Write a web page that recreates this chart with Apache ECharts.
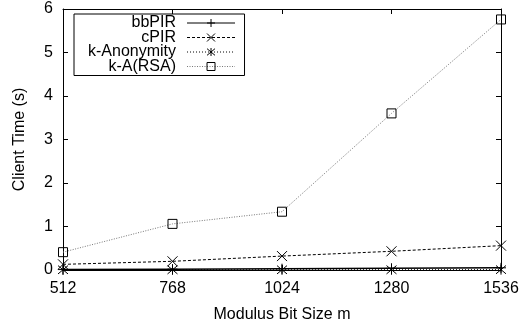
<!DOCTYPE html>
<html><head><meta charset="utf-8">
<script src="https://cdn.jsdelivr.net/npm/echarts@6/dist/echarts.min.js"></script>
<style>html,body{margin:0;padding:0;background:#fff}#c{width:520px;height:325px}</style>
</head><body><div id="c"></div>
<script>
const categories = [512, 768, 1024, 1280, 1536];
const bbPIR = [0.01, 0.02, 0.03, 0.04, 0.05];
const cPIR = [0.13, 0.2, 0.32, 0.43, 0.56];
const kAnonymity = [0.005, 0.005, 0.005, 0.006, 0.008];
const kARSA = [0.41, 1.06, 1.34, 3.6, 5.76];
const yTicks = [0, 1, 2, 3, 4, 5, 6];

const FONT = 'Liberation Sans';
const FS = 16;
const pair = a => categories.map((x, i) => [x, a[i]]);
const plus = 'path://M0,5L10,5M5,0L5,10';
const cross = 'path://M0,0L10,10M10,0L0,10';
const star = 'path://M0,0L10,10M10,0L0,10M5,-1L5,11';
const sym = {color: 'rgba(0,0,0,0)', borderColor: '#000', borderWidth: 1};

const chart = echarts.init(document.getElementById('c'), null, {renderer: 'canvas'});
const axisCommon = {
  type: 'value', min: 512, max: 1536, interval: 256,
  axisLine: {show: true, onZero: false, lineStyle: {color: '#000', width: 1}},
  axisTick: {show: true, inside: true, length: 5, lineStyle: {color: '#000'}},
  splitLine: {show: false}
};
const yCommon = {
  type: 'value', min: 0, max: 6, interval: 1,
  axisLine: {show: true, onZero: false, lineStyle: {color: '#000', width: 1}},
  axisTick: {show: true, inside: true, length: 5, lineStyle: {color: '#000'}},
  splitLine: {show: false}
};
chart.setOption({
  animation: false,
  backgroundColor: '#fff',
  grid: {left: 63, right: 19, top: 9, bottom: 55, containLabel: false, outerBoundsMode: 'none'},
  legend: {
    orient: 'vertical', left: 74, top: 14, align: 'right',
    itemWidth: 48, itemHeight: 10, itemGap: -1.5,
    padding: [1, 9, 1, 14],
    borderColor: '#000', borderWidth: 1, borderRadius: 0,
    backgroundColor: '#fff',
    lineStyle: {width: 1},
    itemStyle: {borderWidth: 1},
    textStyle: {fontFamily: FONT, fontSize: FS, color: '#000', lineHeight: 15, padding: [0, 6, 0, 0]},
    data: ['bbPIR', 'cPIR', 'k-Anonymity', 'k-A(RSA)']
  },
  xAxis: [
    Object.assign({}, axisCommon, {
      position: 'bottom',
      name: 'Modulus Bit Size m', nameLocation: 'middle', nameGap: 37,
      nameTextStyle: {fontFamily: FONT, fontSize: FS, color: '#000'},
      axisLabel: {fontFamily: FONT, fontSize: FS, color: '#000', margin: 11,
        formatter: v => String(v)}
    }),
    Object.assign({}, axisCommon, {position: 'top', axisLabel: {show: false}})
  ],
  yAxis: [
    Object.assign({}, yCommon, {
      position: 'left',
      name: 'Client Time (s)', nameLocation: 'middle', nameGap: 35,
      nameTextStyle: {fontFamily: FONT, fontSize: FS, color: '#000'},
      axisLabel: {fontFamily: FONT, fontSize: FS, color: '#000', margin: 10,
        formatter: v => yTicks.includes(v) ? String(v) : ''}
    }),
    Object.assign({}, yCommon, {position: 'right', axisLabel: {show: false}})
  ],
  series: [
    {name: 'bbPIR', type: 'line', data: pair(bbPIR), symbol: plus, symbolSize: 10,
      lineStyle: {color: '#000', width: 1.5, type: 'solid'}, itemStyle: sym, z: 5},
    {name: 'cPIR', type: 'line', data: pair(cPIR), symbol: cross, symbolSize: 10,
      lineStyle: {color: '#000', width: 1, type: [3, 2]}, itemStyle: sym},
    {name: 'k-Anonymity', type: 'line', data: pair(kAnonymity), symbol: star, symbolSize: 10,
      lineStyle: {color: '#000', width: 1, type: [1, 2]}, itemStyle: sym},
    {name: 'k-A(RSA)', type: 'line', data: pair(kARSA), symbol: 'rect', symbolSize: 9,
      lineStyle: {color: '#777', width: 1, type: [1, 1.5]}, itemStyle: sym}
  ]
});
</script></body></html>
